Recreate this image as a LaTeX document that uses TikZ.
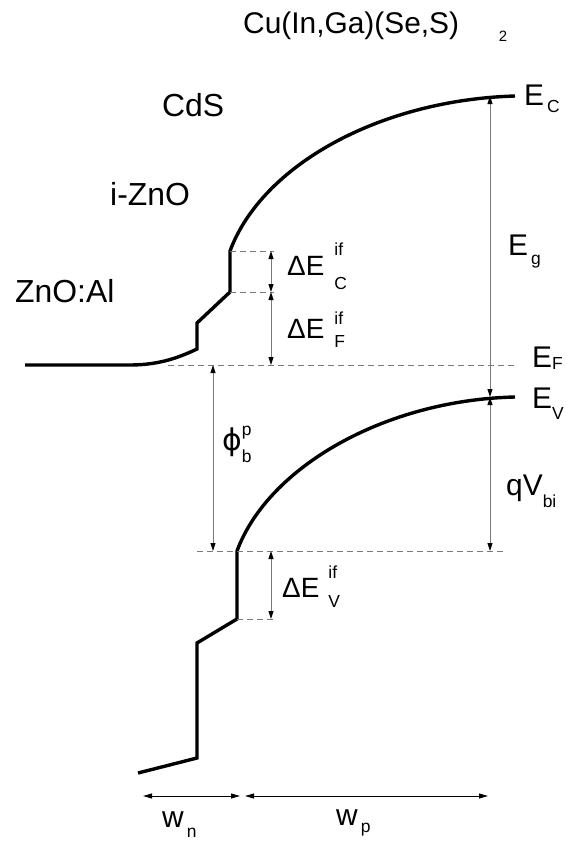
\documentclass[tikz,border=0pt]{standalone}
\usepackage{fontspec}
\setmainfont{Liberation Sans}
\newfontfamily\phifont{DejaVu Sans}
\usetikzlibrary{arrows.meta}
\definecolor{dimgray}{HTML}{7A7A7A}
\newcommand{\matsize}{\fontsize{32}{38}\selectfont}
\newcommand{\lvlsize}{\fontsize{30}{36}\selectfont}
\newcommand{\dsize}{\fontsize{28}{34}\selectfont}
\newcommand{\scrsize}{\fontsize{17.5}{21}\selectfont}
\newcommand{\lo}[2]{\raisebox{-#1}{\scrsize #2}}
\newcommand{\hi}[2]{\raisebox{#1}{\scrsize #2}}
\tikzset{
  band/.style={line width=3.4bp},
  level/.style={dimgray, line width=1bp, dash pattern=on 6bp off 4bp},
  gap/.style={dimgray, line width=0.9bp,
    {Triangle[length=8bp,width=5bp,color=black]}-{Triangle[length=8bp,width=5bp,color=black]}},
  width/.style={black, line width=1bp,
    {Triangle[length=9bp,width=5bp]}-{Triangle[length=9bp,width=5bp]}},
  txt/.style={anchor=base west, inner sep=0pt}
}

\begin{document}
\begin{tikzpicture}[x=1bp,y=-1bp]
  \useasboundingbox (0,0) rectangle (567,845);
  % Eckpunkte der Baender
  \coordinate (cTop) at (230,251);
  \coordinate (cStep) at (230,292);
  \coordinate (cEnd) at (515,96);
  \coordinate (fL) at (168,365);
  \coordinate (fR) at (515,365);
  \coordinate (vTop) at (237,551);
  \coordinate (vStep) at (237,619);
  \coordinate (vEnd) at (515,397);
  \coordinate (phiL) at (197,551);
  \coordinate (phiR) at (507,551);
  \coordinate (xd) at (271,0);
  \coordinate (xphi) at (213,0);
  \coordinate (xg) at (490,0);
  % Leitungsband
  \draw[band] (25,365) -- (130,365) .. controls (160,365) and (180,357) .. (197,349)
    -- (197,323) -- (cStep) -- (cTop)
    .. controls (262,165) and (380,100) .. (cEnd);
  % Valenzband
  \draw[band] (138,773) -- (197,758) -- (197,643) -- (vStep) -- (vTop)
    .. controls (268,467) and (385,400) .. (vEnd);
  % gestrichelte Niveaus
  \draw[level] (fL) -- (fR);
  \draw[level] (phiL) -- (phiR);
  \draw[level] (cTop) -- (cTop -| 274,0);
  \draw[level] (cStep) -- (cStep -| 274,0);
  \draw[level] (vStep) -- (vStep -| 274,0);
  % Pfeile
  \draw[gap] (cTop -| xd) -- (cStep -| xd);
  \draw[gap] (cStep -| xd) -- (fR -| xd);
  \draw[gap] (fR -| xphi) -- (phiR -| xphi);
  \draw[gap] (vTop -| xd) -- (vStep -| xd);
  \draw[gap] (cEnd -| xg) -- (vEnd -| xg);
  \draw[gap] (vEnd -| xg) -- (phiR -| xg);
  \coordinate (wnL) at (143,796);
  \coordinate (wnR) at (240,796);
  \coordinate (wpL) at (245,796);
  \coordinate (wpR) at (488,796);
  \draw[width] (wnL) -- (wnR);
  \draw[width] (wpL) -- (wpR);
  % Schichten
  \node[txt,font=\lvlsize] (cigs) at (243,33) {Cu(In,Ga)(Se,S)\hspace{40pt}\lo{9pt}{\fontsize{15}{18}\selectfont 2}};
  \node[txt,font=\matsize] (cds) at (162,116) {CdS};
  \node[txt,font=\matsize] (izno) at (110,205) {i-ZnO};
  \node[txt,font=\matsize] (azo) at (15,302) {ZnO:Al};
  % Energien
  \node[txt,font=\lvlsize] (ec) at (524,105) {E\hspace{3pt}\lo{8pt}{C}};
  \node[txt,font=\lvlsize] (eg) at (508,255) {E\hspace{3pt}\lo{10pt}{g}};
  \node[txt,font=\lvlsize] (ef) at (532,367) {E\hspace{0pt}\lo{3pt}{F}};
  \node[txt,font=\lvlsize] (ev) at (532,408) {E\hspace{0pt}\lo{12pt}{V}};
  \node[txt,font=\lvlsize] (qvbi) at (506,495) {qV\hspace{0pt}\lo{13pt}{bi}};
  \node[txt,font=\dsize] (dec) at (287,275) {ΔE\hspace{10pt}\rlap{\hi{20pt}{if}}\lo{15pt}{C}};
  \node[txt,font=\dsize] (def) at (287,338) {ΔE\hspace{10pt}\rlap{\hi{14pt}{if}}\lo{10pt}{F}};
  \node[txt,font=\dsize] (dev) at (282,597) {ΔE\hspace{9pt}\rlap{\hi{19pt}{if}}\lo{11pt}{V}};
  \node[txt,font=\lvlsize] (phib) at (222,450) {{\phifont ϕ}\hspace{0pt}\rlap{\hi{15pt}{p}}\lo{13pt}{b}};
  % Weiten
  \node[txt,font=\lvlsize] (wn) at (162,827) {w\hspace{3pt}\lo{11pt}{n}};
  \node[txt,font=\lvlsize] (wp) at (336,825) {w\hspace{3pt}\lo{8pt}{p}};
\end{tikzpicture}
\end{document}
